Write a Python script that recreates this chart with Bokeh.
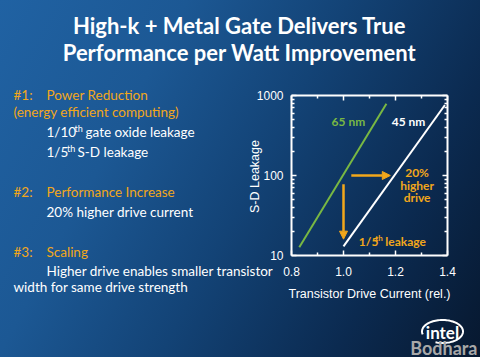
import numpy as np
from bokeh.plotting import figure
from bokeh.models import (Range1d, LogAxis, LinearAxis, FixedTicker, Label, Arrow,
                          NormalHead, PrintfTickFormatter)
from bokeh.embed import file_html
from bokeh.resources import INLINE

# ---- data ----
x_65nm = [0.83, 1.165]
y_65nm = [12.7, 790]
x_45nm = [1.0, 1.39]
y_45nm = [13, 760]
x_ticks = [0.8, 1.0, 1.2, 1.4]
x_minor = [0.9, 1.1, 1.3]
y_ticks = [10, 100, 1000]
y_minor = [20, 30, 40, 50, 60, 70, 80, 90, 200, 300, 400, 500, 600, 700, 800, 900]
arrow_h = [(1.03, 100), (1.18, 100)]
arrow_v = [(1.0, 78), (1.0, 16)]

W, H = 480, 357
# chart box in screen px (from top-left): left, right, top, bottom
BL, BR, BT, BB = 291, 447, 95, 255
X0, X1 = 0.8, 1.4
LY0, LY1 = 1.0, 3.0
kx = (BR - BL) / (X1 - X0)
ky = (BB - BT) / (LY1 - LY0)
x_start = X0 - BL / kx
x_end = X0 + (W - BL) / kx
y_start = 10 ** (LY0 - (H - BB) / ky)
y_end = 10 ** (LY1 + BT / ky)

ORANGE = "#f2a71b"
GREEN = "#79b843"
WHITE = "#ffffff"
SLIDE_FONT = "Lato"
AX_FONT = "Liberation Sans"
BODY = "13.5px"

p = figure(width=W, height=H, output_backend="svg", toolbar_location=None,
           x_range=Range1d(x_start, x_end), y_range=Range1d(y_start, y_end),
           y_axis_type="log", x_axis_location=None, y_axis_location=None,
           min_border=0,
           styles={"background": "linear-gradient(118deg, #2062a3 0%, #1c5894 28%, #134376 52%, #0b2a50 78%, #07182f 100%)"})
p.border_fill_color = None
p.background_fill_color = None
p.outline_line_color = None
p.grid.visible = False


def style_axis(ax, show_labels):
    ax.axis_line_color = WHITE
    ax.axis_line_width = 2
    ax.major_tick_line_color = WHITE
    ax.minor_tick_line_color = WHITE
    ax.major_tick_line_width = 1.5
    ax.minor_tick_line_width = 1.5
    ax.major_tick_in = 5
    ax.major_tick_out = 0
    ax.minor_tick_in = 3
    ax.minor_tick_out = 0
    ax.major_label_text_color = WHITE if show_labels else None
    ax.major_label_text_font = AX_FONT
    ax.major_label_text_font_size = "12px"


xb = LinearAxis(ticker=FixedTicker(ticks=x_ticks, minor_ticks=x_minor),
                fixed_location=10 ** LY0, bounds=(X0, X1),
                formatter=PrintfTickFormatter(format="%.1f"))
style_axis(xb, True)
xb.major_label_standoff = 11
p.add_layout(xb, "below")

xt = LinearAxis(ticker=FixedTicker(ticks=x_ticks, minor_ticks=x_minor),
                fixed_location=10 ** LY1, bounds=(X0, X1))
style_axis(xt, False)
p.add_layout(xt, "above")

yl = LogAxis(ticker=FixedTicker(ticks=y_ticks, minor_ticks=y_minor),
             fixed_location=X0, bounds=(10 ** LY0, 10 ** LY1),
             formatter=PrintfTickFormatter(format="%d"))
style_axis(yl, True)
yl.major_label_standoff = 8
p.add_layout(yl, "left")

yr = LogAxis(ticker=FixedTicker(ticks=y_ticks, minor_ticks=y_minor),
             fixed_location=X1, bounds=(10 ** LY0, 10 ** LY1))
style_axis(yr, False)
p.add_layout(yr, "right")

p.line(x_65nm, y_65nm, line_color=GREEN, line_width=2)
p.line(x_45nm, y_45nm, line_color=WHITE, line_width=2)

for (a, b) in [(arrow_h[0], arrow_h[1]), (arrow_v[0], arrow_v[1])]:
    p.add_layout(Arrow(x_start=a[0], y_start=a[1], x_end=b[0], y_end=b[1],
                       line_color=ORANGE, line_width=2.5,
                       end=NormalHead(size=8, fill_color=ORANGE, line_color=ORANGE)))


def dlabel(x, y, text, color, size="12px", align="center", bold=True):
    p.add_layout(Label(x=x, y=y, text=text, text_color=color, text_font=SLIDE_FONT,
                       text_font_size=size, text_align=align, text_baseline="middle",
                       text_font_style="bold" if bold else "normal"))


dlabel(1.019, 477, "65 nm", GREEN)
dlabel(1.25, 477, "45 nm", WHITE)
dlabel(1.283, 110, "20%", ORANGE)
dlabel(1.283, 75, "higher", ORANGE)
dlabel(1.283, 52.6, "drive", ORANGE)
dlabel(1.059, 15.1, "1/5", ORANGE, align="left")
dlabel(1.122, 16.6, "th", ORANGE, size="8px", align="left")
dlabel(1.161, 15.1, "leakage", ORANGE, align="left")


def slabel(x, ytop, text, color, size=BODY, bold=False, align="left", font=SLIDE_FONT,
           angle=0.0):
    p.add_layout(Label(x=x, y=H - ytop, x_units="screen", y_units="screen", text=text,
                       text_color=color, text_font=font, text_font_size=size,
                       text_align=align, text_baseline="middle", angle=angle,
                       text_font_style="bold" if bold else "normal"))


# axis titles
slabel(369, 293, "Transistor Drive Current (rel.)", WHITE, size="12.5px", align="center",
       font=AX_FONT)
slabel(254, 176, "S-D Leakage", WHITE, size="12.5px", align="center", font=AX_FONT,
       angle=np.pi / 2)

# title
slabel(239, 25, "High-k + Metal Gate Delivers True", WHITE, size="22px", bold=True, align="center")
slabel(239, 52, "Performance per Watt Improvement", WHITE, size="22px", bold=True, align="center")

# left text block
slabel(13, 94, "#1:", ORANGE)
slabel(46, 94, "Power Reduction", ORANGE)
slabel(13, 111.7, "(energy efficient computing)", ORANGE)
slabel(46, 131.7, "1/10", WHITE)
slabel(74, 128, "th", WHITE, size="9px")
slabel(85, 131.7, "gate oxide leakage", WHITE)
slabel(46, 151, "1/5", WHITE)
slabel(66.5, 147.5, "th", WHITE, size="9px")
slabel(77, 151, "S-D leakage", WHITE)
slabel(13, 191, "#2:", ORANGE)
slabel(46, 191, "Performance Increase", ORANGE)
slabel(46, 211.7, "20% higher drive current", WHITE)
slabel(13, 251.7, "#3:", ORANGE)
slabel(46, 251.7, "Scaling", ORANGE)
slabel(46, 270.7, "Higher drive enables smaller transistor", WHITE)
slabel(13, 286.7, "width for same drive strength", WHITE)

# logo (decoration, placed in screen pixels and mapped to the frame)
slabel(442, 332, "intel", WHITE, size="17px", bold=True, align="center")
t = np.radians(np.linspace(-110, 195, 80))
sx = 442 + 20.5 * np.cos(t)
sy_top = 331 - 11.5 * np.sin(t)
p.line(x_start + sx / kx, 10 ** (LY1 + (BT - sy_top) / ky), line_color=WHITE, line_width=2)
slabel(477, 347, "Bodhara", "#a8a8a8", size="18px", bold=True, align="right")

open("out.html", "w").write(file_html(p, INLINE))
